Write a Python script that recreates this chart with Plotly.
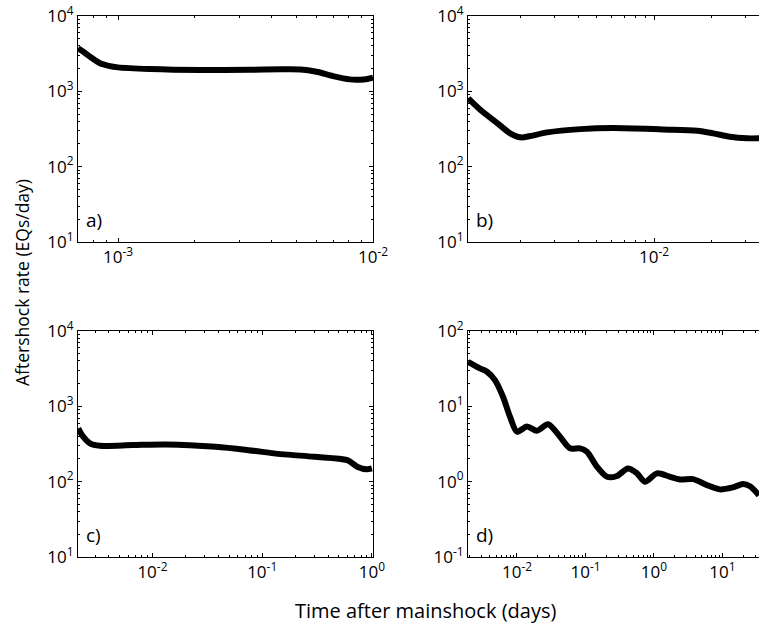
import plotly.graph_objects as go
from plotly.subplots import make_subplots

# ---- data (time in days, rate in EQs/day) ----
t_a = [6.97e-4, 7.4e-4, 7.77e-4, 8.5e-4, 9.2e-4, 1.0e-3, 1.33e-3, 2.1e-3, 3.3e-3, 4.4e-3, 5.2e-3, 6.0e-3, 6.97e-3, 8.1e-3, 8.9e-3, 9.5e-3, 1.0e-2]
r_a = [3725, 3250, 2880, 2360, 2180, 2080, 1980, 1920, 1930, 1960, 1950, 1820, 1595, 1442, 1430, 1460, 1515]

t_b = [1.06e-3, 1.23e-3, 1.51e-3, 1.76e-3, 1.99e-3, 2.24e-3, 2.75e-3, 4.1e-3, 6.1e-3, 1.11e-2, 1.68e-2, 2.04e-2, 2.5e-2, 3.07e-2, 3.55e-2]
r_b = [807, 565, 376, 277, 245, 255, 285, 315, 326, 312, 300, 277, 249, 238, 238]

t_c = [2.11e-3, 2.34e-3, 2.7e-3, 3.33e-3, 6.6e-3, 1.34e-2, 3.78e-2, 7.5e-2, 0.148, 0.3, 0.596, 0.733, 0.90, 1.0]
r_c = [511, 395, 323, 300, 306, 312, 290, 262, 232, 214, 193, 158, 146, 150]

t_d = [1.93e-3, 2.88e-3, 3.65e-3, 4.77e-3, 6.25e-3, 7.9e-3, 1.0e-2, 1.4e-2, 1.96e-2, 2.84e-2, 4.25e-2, 5.94e-2, 8.3e-2, 0.105,
       0.147, 0.206, 0.288, 0.417, 0.565, 0.739, 1.107, 1.71, 2.4, 3.71, 5.94, 9.2, 14.2, 19.9, 25.2, 34.1]
r_d = [39, 31.9, 28.8, 22.3, 13.4, 7.3, 4.6, 5.4, 4.74, 5.8, 3.96, 2.77, 2.77, 2.5,
       1.58, 1.16, 1.19, 1.5, 1.29, 1.0, 1.29, 1.16, 1.07, 1.08, 0.90, 0.79, 0.84, 0.93, 0.87, 0.66]

panel_labels = ["a)", "b)", "c)", "d)"]

xtick_a = [1e-3, 1e-2]
xtick_b = [1e-3, 1e-2]
xtick_c = [1e-2, 1e-1, 1e0]
xtick_d = [1e-2, 1e-1, 1e0, 1e1]
ytick_abc = [1e1, 1e2, 1e3, 1e4]
ytick_d = [1e-1, 1e0, 1e1, 1e2]

FONT = "Open Sans"
W, H = 759, 629


def pow_text(vals):
    import math
    return ["10<sup>%d</sup>" % round(math.log10(v)) for v in vals]


fig = make_subplots(rows=2, cols=2)

series = [(t_a, r_a), (t_b, r_b), (t_c, r_c), (t_d, r_d)]
pos = [(1, 1), (1, 2), (2, 1), (2, 2)]
for (t, r), (row, col) in zip(series, pos):
    fig.add_trace(go.Scatter(x=t, y=r, mode="lines", line=dict(color="black", width=6, shape="spline", smoothing=0.8),
                             showlegend=False, cliponaxis=True), row=row, col=col)

# domains in screen pixels
xdom = {1: (78, 373), 2: (468, 759)}
ydom = {1: (16, 242), 2: (331, 557)}

xranges = {(1, 1): [-3.157, -2.0], (1, 2): [-2.976, -1.45], (2, 1): [-2.678, 0.01], (2, 2): [-2.715, 1.533]}
yranges = {(1, 1): [1, 4], (1, 2): [1, 4], (2, 1): [1, 4], (2, 2): [-1, 2]}
xticks = {(1, 1): xtick_a, (1, 2): xtick_b, (2, 1): xtick_c, (2, 2): xtick_d}
yticks = {(1, 1): ytick_abc, (1, 2): ytick_abc, (2, 1): ytick_abc, (2, 2): ytick_d}

minor_cfg = dict(ticks="inside", ticklen=2, tickcolor="black", tickwidth=1, dtick="D1", showgrid=False)

for (row, col) in pos:
    x0, x1 = xdom[col]
    y0, y1 = ydom[row]
    right_cut = (col == 2)
    fig.update_xaxes(type="log", range=xranges[(row, col)], automargin=False,
                     domain=[x0 / W, min(x1 / W, 1.0)],
                     tickvals=xticks[(row, col)], ticktext=pow_text(xticks[(row, col)]),
                     ticks="inside", ticklen=4, tickcolor="black", tickwidth=1,
                     minor=minor_cfg, ticklabeloverflow="allow",
                     showline=True, linecolor="black", linewidth=1, mirror="allticks",
                     showgrid=False, zeroline=False,
                     tickfont=dict(family=FONT, size=17, color="black"),
                     row=row, col=col)
    fig.update_yaxes(type="log", range=yranges[(row, col)], automargin=False,
                     domain=[1 - y1 / H, 1 - y0 / H],
                     tickvals=yticks[(row, col)], ticktext=pow_text(yticks[(row, col)]),
                     ticks="inside", ticklen=4, tickcolor="black", tickwidth=1,
                     minor=minor_cfg, ticklabeloverflow="allow",
                     showline=True, linecolor="black", linewidth=1,
                     mirror=False if right_cut else "allticks",
                     showgrid=False, zeroline=False,
                     tickfont=dict(family=FONT, size=17, color="black"),
                     row=row, col=col)

annotations = []
axes_names = ["", "2", "3", "4"]
for lab, nm in zip(panel_labels, axes_names):
    annotations.append(dict(text=lab, x=0.02, y=0.03, xref="x%s domain" % nm, yref="y%s domain" % nm,
                            xanchor="left", yanchor="bottom", showarrow=False,
                            font=dict(family=FONT, size=19, color="black")))

annotations.append(dict(text="Time after mainshock (days)", x=425 / W, y=1 - 610 / H,
                        xref="paper", yref="paper",
                        xanchor="center", yanchor="middle", showarrow=False,
                        font=dict(family=FONT, size=20, color="black")))
annotations.append(dict(text="Aftershock rate (EQs/day)", x=22 / W, y=1 - 283 / H,
                        xref="paper", yref="paper",
                        xanchor="center", yanchor="middle", showarrow=False, textangle=-90,
                        font=dict(family=FONT, size=17.5, color="black")))

fig.update_layout(width=W, height=H, margin=dict(l=0, r=0, t=0, b=0),
                  plot_bgcolor="white", paper_bgcolor="white",
                  annotations=annotations)

fig.write_html("out.html", config={"displayModeBar": False},
               post_script="document.body.style.margin='0px';document.body.style.overflow='hidden';")
